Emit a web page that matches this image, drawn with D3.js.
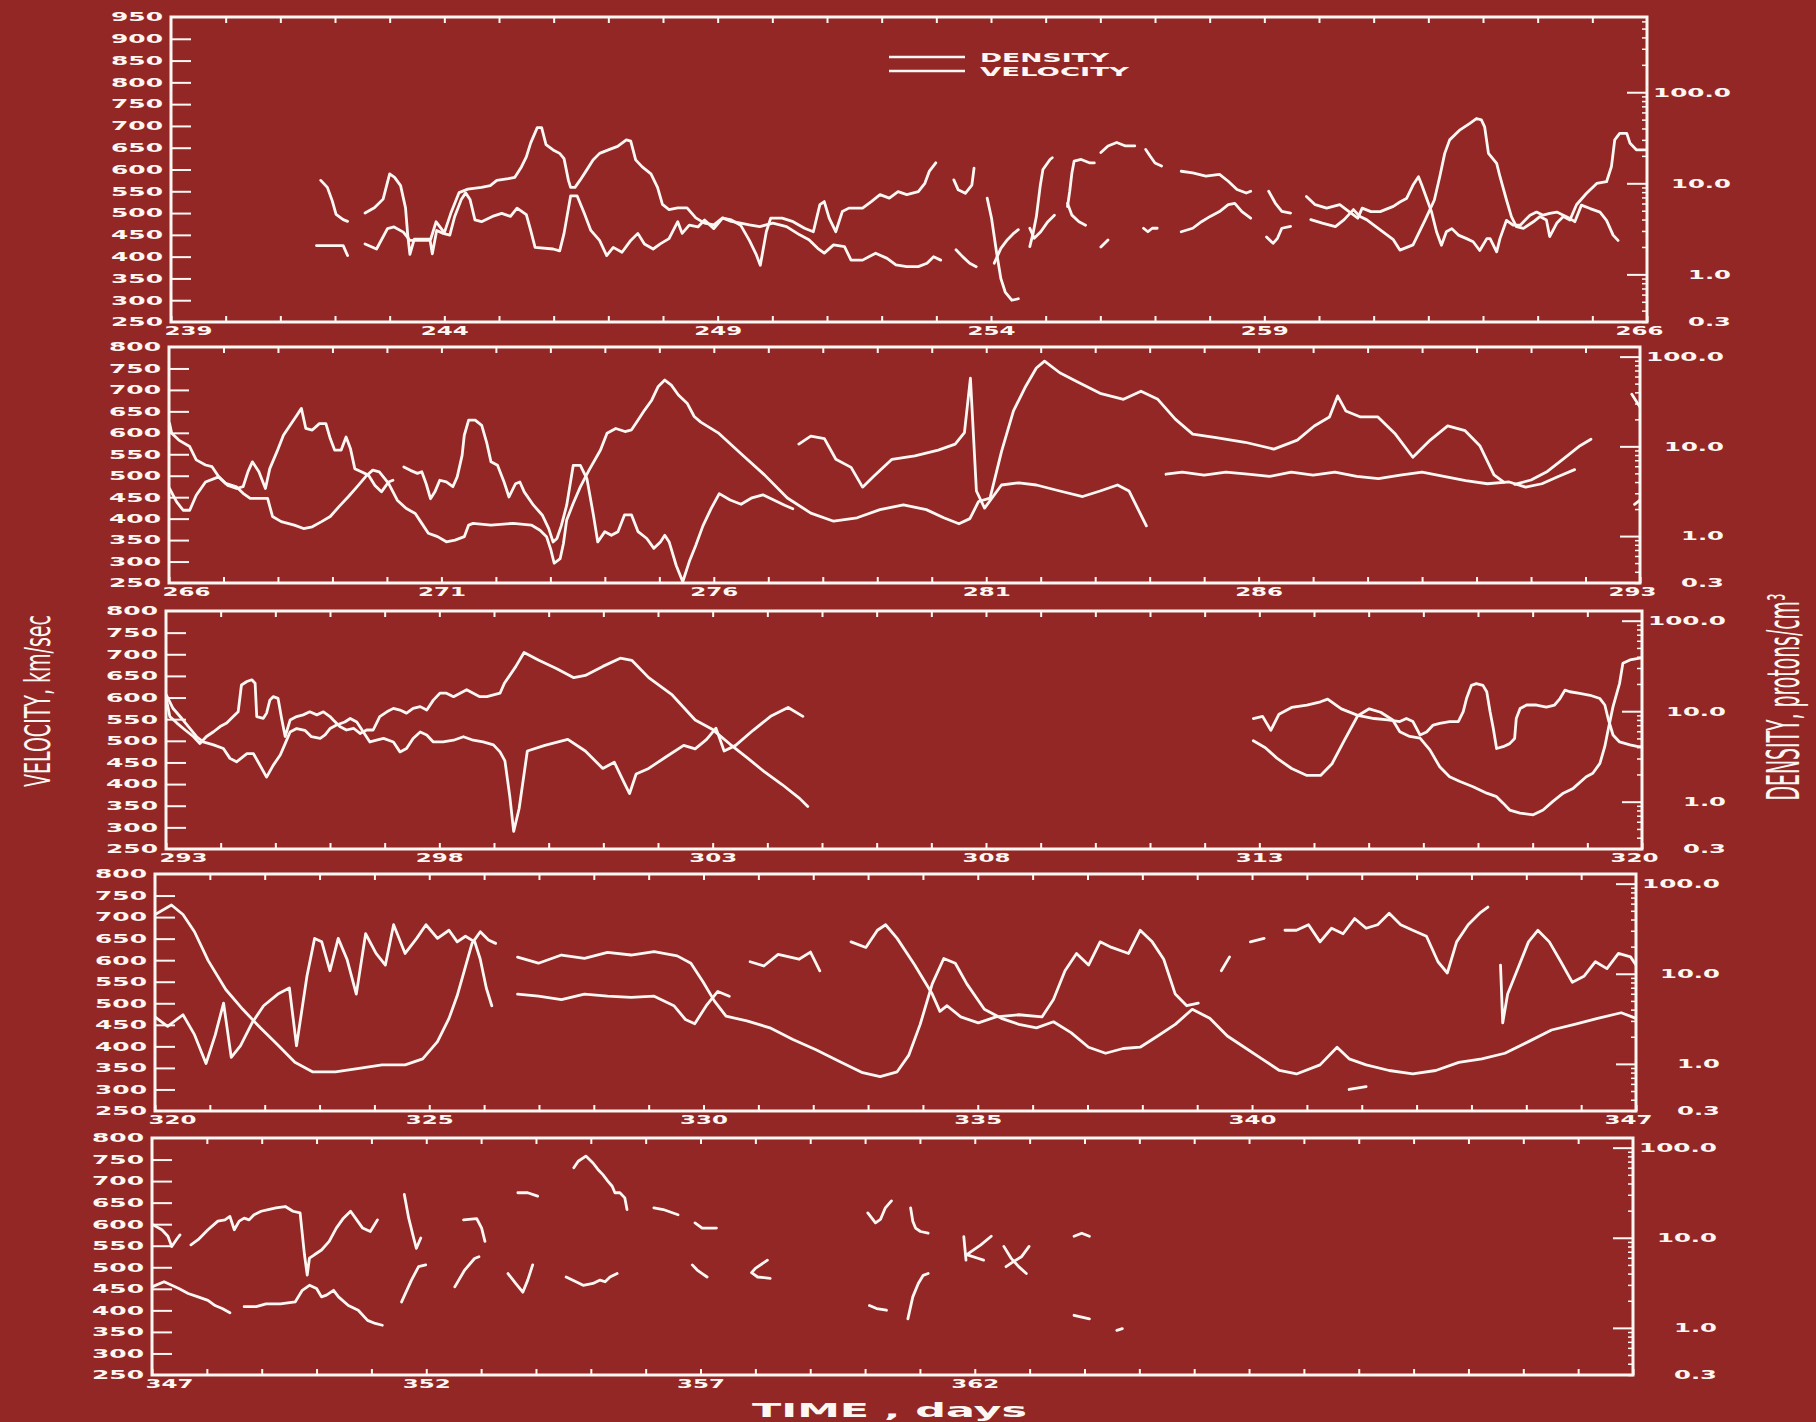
<!DOCTYPE html>
<html>
<head>
<meta charset="utf-8">
<script src="https://cdn.jsdelivr.net/npm/d3@7/dist/d3.min.js"></script>
<style>
  html, body { margin: 0; padding: 0; background: #932725; }
  svg { display: block; }
</style>
</head>
<body>
<svg id="chart" width="1816" height="1422"></svg>
<script>
// ---------------------------------------------------------------------------
// Solar wind proton velocity (km/sec) and density (protons/cm^3) versus time
// in days. Five strips of 27 days each. Each series is a list of [day, value]
// pairs; null marks a data gap.
// ---------------------------------------------------------------------------

const stripDays = [[239, 266], [266, 293], [293, 320], [320, 347], [347, 374]];
const dayLabels1 = [239, 244, 249, 254, 259, 266];
const dayLabels2 = [266, 271, 276, 281, 286, 293];
const dayLabels3 = [293, 298, 303, 308, 313, 320];
const dayLabels4 = [320, 325, 330, 335, 340, 347];
const dayLabels5 = [347, 352, 357, 362];
const velLabelsTall = [250, 300, 350, 400, 450, 500, 550, 600, 650, 700, 750, 800, 850, 900, 950];
const velLabels = [250, 300, 350, 400, 450, 500, 550, 600, 650, 700, 750, 800];
const densLabels = [100, 10, 1, 0.3];

// ---- strip 1: days 239-266 ----
const vel1 = [
  [241.74,575],[241.86,559],[241.95,528],[242.02,497],[242.15,485],[242.23,481],null,
  [242.55,500],[242.72,512],[242.88,532],[243.0,590],[243.09,582],[243.2,563],[243.29,512],[243.33,450],[243.37,405],[243.45,440],[243.75,440],[243.85,480],[244.0,455],[244.12,500],[244.27,547],[244.43,555],[244.68,559],[244.84,563],[244.96,575],[245.17,579],[245.29,582],[245.41,606],[245.5,629],[245.58,661],[245.7,696],[245.78,696],[245.86,657],[245.99,645],[246.11,637],[246.19,625],[246.27,575],[246.31,559],[246.39,559],[246.48,575],[246.6,598],[246.72,622],[246.84,637],[247.0,645],[247.17,653],[247.33,668],[247.41,665],[247.5,622],[247.62,606],[247.78,590],[247.9,559],[247.99,520],[248.11,508],[248.27,512],[248.44,512],[248.6,489],[248.76,477],[248.93,473],[249.09,489],[249.25,481],[249.42,477],[249.58,473],[249.77,469],[250.01,477],[250.26,469],[250.5,450],[250.67,439],[250.83,419],[250.95,408],[251.12,427],[251.32,423],[251.44,392],[251.65,392],[251.89,408],[252.1,396],[252.26,381],[252.46,377],[252.67,377],[252.83,385],[252.95,400],[253.08,392],null,
  [253.36,416],[253.48,400],[253.61,385],[253.73,377],null,
  [254.06,385],[254.18,419],[254.3,439],[254.42,454],[254.5,462],null,
  [254.71,423],[254.77,454],[254.83,492],[254.9,562],[254.95,600],[255.08,623],[255.12,627],null,
  [255.4,515],[255.44,550],[255.48,592],[255.52,619],[255.65,623],[255.81,615],[255.89,615],null,
  [256.01,639],[256.14,654],[256.3,662],[256.46,654],[256.63,654],null,
  [256.83,646],[256.91,631],[257.0,615],[257.12,608],null,
  [257.48,596],[257.69,592],[257.93,585],[258.18,589],[258.34,573],[258.5,554],[258.67,546],[258.75,550],null,
  [259.08,550],[259.2,523],[259.32,504],[259.48,500],null,
  [259.85,485],[260.06,477],[260.3,469],[260.46,485],[260.63,508],[260.75,492],[260.87,485],[261.04,469],[261.2,454],[261.36,439],[261.48,415],[261.72,427],[261.94,484],[262.11,530],[262.21,584],[262.3,637],[262.39,668],[262.58,691],[262.76,706],[262.88,717],[262.97,714],[263.03,698],[263.1,637],[263.25,614],[263.31,584],[263.43,530],[263.52,492],[263.61,469],[263.74,465],[263.92,480],[264.04,492],[264.16,484],[264.22,446],[264.35,477],[264.47,492],[264.59,484],[264.71,519],[264.89,545],[265.08,568],[265.26,572],[265.35,607],[265.41,668],[265.5,683],[265.63,683],[265.69,660],[265.81,645],[266.0,645]
];
const den1 = [
  [241.66,2.07],[242.15,2.07],[242.23,1.61],null,
  [242.55,2.16],[242.76,1.9],[242.96,3.18],[243.08,3.32],[243.25,2.91],[243.37,2.36],[243.53,2.36],[243.74,2.36],[243.78,1.68],[243.86,3.04],[243.98,2.82],[244.1,2.7],[244.19,4.33],[244.31,6.65],[244.39,7.85],[244.47,6.65],[244.56,3.96],[244.68,3.79],[244.88,4.33],[245.05,4.68],[245.21,4.33],[245.33,5.34],[245.5,4.52],[245.58,3.04],[245.66,1.98],[245.99,1.9],[246.11,1.81],[246.19,2.82],[246.31,7.26],[246.43,7.26],[246.56,4.68],[246.68,3.04],[246.84,2.36],[246.97,1.61],[247.09,1.98],[247.25,1.75],[247.41,2.36],[247.54,2.82],[247.66,2.16],[247.82,1.9],[247.95,2.16],[248.11,2.47],[248.27,3.79],[248.35,2.82],[248.48,3.47],[248.64,3.32],[248.76,3.96],[248.93,3.18],[249.09,4.14],[249.25,3.96],[249.42,3.47],[249.58,2.36],[249.7,1.68],[249.78,1.26],[249.89,2.94],[249.97,4.14],[250.18,4.14],[250.38,3.79],[250.59,3.21],[250.75,2.94],[250.87,5.83],[250.95,6.3],[251.04,4.14],[251.16,2.94],[251.28,4.89],[251.4,5.34],[251.65,5.34],[251.81,6.3],[251.97,7.51],[252.14,6.88],[252.3,8.11],[252.46,7.51],[252.67,8.11],[252.79,10.0],[252.87,13.5],[252.99,16.8],null,
  [253.32,10.9],[253.4,8.48],[253.53,7.76],[253.65,9.57],[253.69,14.7],null,
  [253.93,6.88],[254.01,4.14],[254.1,1.77],[254.18,0.9],[254.26,0.64],[254.38,0.52],[254.5,0.54],null,
  [254.71,3.21],[254.79,2.49],[254.91,2.94],[255.04,3.79],[255.16,4.47],null,
  [255.4,6.02],[255.48,4.47],[255.61,3.79],[255.73,3.47],null,
  [256.01,2.0],[256.14,2.39],null,
  [256.79,3.21],[256.87,2.94],[256.95,3.21],[257.04,3.21],null,
  [257.48,2.94],[257.69,3.21],[257.85,3.79],[258.01,4.33],[258.18,4.89],[258.34,5.83],[258.46,6.02],[258.59,4.89],[258.75,4.14],null,
  [259.04,2.58],[259.16,2.19],[259.24,2.49],[259.32,3.21],[259.48,3.36],null,
  [259.77,7.18],[259.93,5.83],[260.14,5.34],[260.38,5.83],[260.55,4.89],[260.71,4.14],[260.79,5.34],[260.95,4.89],[261.12,4.89],[261.36,5.58],[261.48,6.23],[261.6,6.8],[261.72,9.57],[261.82,11.8],[261.88,9.57],[261.97,6.8],[262.06,4.83],[262.15,2.94],[262.24,2.09],[262.33,2.94],[262.43,3.18],[262.55,2.7],[262.7,2.47],[262.82,2.28],[262.94,1.83],[263.07,2.47],[263.13,2.47],[263.25,1.77],[263.31,2.47],[263.43,3.92],[263.55,3.47],[263.68,3.47],[263.86,4.47],[263.98,4.83],[264.1,4.47],[264.22,4.68],[264.35,4.83],[264.47,4.47],[264.59,4.1],[264.68,3.79],[264.8,5.76],[264.96,5.28],[265.14,4.83],[265.26,3.92],[265.38,2.7],[265.47,2.36]
];

// ---- strip 2: days 266-293 ----
const vel2 = [
  [266.01,622],[266.05,599],[266.18,583],[266.38,568],[266.5,537],[266.67,525],[266.79,521],[266.91,498],[267.04,482],[267.24,474],[267.36,459],[267.49,447],[267.81,447],[267.9,405],[268.06,393],[268.3,385],[268.47,377],[268.63,381],[268.8,393],[268.96,405],[269.12,428],[269.29,451],[269.45,474],[269.61,498],[269.74,513],[269.86,509],[270.03,482],[270.19,443],[270.35,424],[270.52,412],[270.64,389],[270.76,366],[270.93,358],[271.09,346],[271.25,350],[271.42,358],[271.5,385],[271.58,389],[271.91,385],[272.32,389],[272.65,385],[272.81,373],[272.93,358],[273.01,327],[273.07,296],[273.18,307],[273.24,342],[273.3,397],[273.42,436],[273.55,474],[273.71,513],[273.92,560],[274.04,599],[274.2,610],[274.37,603],[274.49,607],[274.61,630],[274.73,653],[274.86,676],[274.98,708],[275.1,723],[275.22,711],[275.35,688],[275.51,669],[275.64,638],[275.76,625],[276.08,600],[276.5,551],[276.93,502],[277.35,448],[277.78,413],[278.2,394],[278.63,402],[279.05,421],[279.48,432],[279.9,421],[280.22,402],[280.5,388],[280.7,400],[280.86,440],[281.07,448],[281.28,556],[281.5,651],[281.71,705],[281.92,751],[282.07,767],[282.35,740],[282.67,719],[283.09,692],[283.52,678],[283.84,697],[284.15,678],[284.47,632],[284.79,597],[285.22,589],[285.75,578],[286.28,562],[286.71,583],[287.02,616],[287.3,637],[287.45,686],[287.6,651],[287.87,637],[288.19,637],[288.51,597],[288.83,543],[289.15,583],[289.47,616],[289.79,605],[290.06,570],[290.32,502],[290.5,485],null,
  [290.7,480],[291.0,490],[291.3,510],[291.6,540],[291.9,570],[292.1,585],null,
  [292.85,690],[293.0,660]
];
const den2 = [
  [266.01,3.39],[266.14,2.41],[266.26,1.94],[266.38,1.94],[266.5,2.85],[266.67,4.01],[266.91,4.57],[267.08,3.67],[267.24,3.39],[267.36,3.55],[267.45,5.22],[267.53,6.72],[267.65,5.22],[267.77,3.39],[267.85,5.64],[267.98,8.67],[268.1,13.3],[268.22,17.1],[268.35,22.4],[268.43,26.5],[268.51,15.9],[268.63,15.2],[268.76,17.9],[268.88,17.9],[268.96,12.2],[269.04,9.08],[269.16,9.08],[269.25,12.7],[269.33,9.49],[269.41,5.64],[269.53,5.22],[269.66,4.78],[269.78,3.67],[269.9,3.11],[270.03,4.01],[270.11,4.19],null,
  [270.31,5.89],[270.43,5.4],[270.56,5.0],[270.64,5.22],[270.72,3.83],[270.8,2.61],[270.88,3.11],[270.97,4.19],[271.09,4.01],[271.21,3.55],[271.29,4.57],[271.38,7.94],[271.42,13.3],[271.5,19.6],[271.62,19.6],[271.74,17.1],[271.83,11.1],[271.91,6.72],[272.03,6.15],[272.15,4.01],[272.24,2.73],[272.36,3.83],[272.44,4.01],[272.52,3.11],[272.69,2.21],[272.85,1.72],[272.97,1.21],[273.05,0.86],[273.12,0.94],[273.2,1.3],[273.3,2.21],[273.42,6.15],[273.55,6.15],[273.67,4.38],[273.79,1.72],[273.87,0.86],[274.0,1.12],[274.12,1.02],[274.24,1.12],[274.36,1.72],[274.49,1.72],[274.61,1.12],[274.77,0.94],[274.9,0.73],[275.02,0.86],[275.1,1.02],[275.18,0.86],[275.31,0.47],[275.43,0.31],[275.55,0.52],[275.67,0.79],[275.8,1.3],[275.95,2.02],[276.1,2.97],[276.3,2.52],[276.5,2.26],[276.7,2.67],[276.9,2.88],[277.1,2.52],[277.3,2.21],[277.45,2.02],null,
  [277.56,10.6],[277.78,13.0],[278.03,12.2],[278.24,7.18],[278.52,5.83],[278.73,3.51],[278.95,4.73],[279.27,7.18],[279.69,7.85],[280.12,9.08],[280.43,10.6],[280.6,14.2],[280.71,57.6],[280.82,3.18],[280.97,2.05],[281.28,3.71],[281.6,3.92],[281.92,3.71],[282.35,3.18],[282.77,2.76],[283.09,3.18],[283.41,3.71],[283.62,3.18],[283.94,1.3],null,
  [284.3,4.89],[284.6,5.17],[285.0,4.78],[285.4,5.17],[285.8,4.89],[286.2,4.62],[286.6,5.17],[287.0,4.78],[287.4,5.17],[287.8,4.62],[288.2,4.38],[288.6,4.78],[289.0,5.17],[289.4,4.62],[289.8,4.14],[290.2,3.83],[290.6,4.01],[290.9,3.51],[291.2,3.83],[291.5,4.62],[291.8,5.5],null,
  [292.9,2.26],[293.0,2.52]
];

// ---- strip 3: days 293-320 ----
const vel3 = [
  [293.01,594],[293.07,556],[293.2,541],[293.35,525],[293.5,510],[293.62,494],[293.74,510],[293.87,521],[293.99,533],[294.11,541],[294.23,556],[294.32,567],[294.38,629],[294.48,637],[294.57,641],[294.63,633],[294.66,556],[294.78,552],[294.84,564],[294.9,594],[294.96,602],[295.05,598],[295.12,548],[295.18,510],[295.27,548],[295.39,556],[295.51,560],[295.63,567],[295.76,560],[295.88,567],[296.0,556],[296.06,548],[296.18,533],[296.3,525],[296.43,529],[296.55,517],[296.67,525],[296.79,525],[296.91,556],[297.04,567],[297.16,575],[297.28,571],[297.4,564],[297.52,575],[297.65,579],[297.77,571],[297.89,594],[298.01,610],[298.13,610],[298.26,602],[298.38,610],[298.5,618],[298.62,610],[298.74,602],[298.87,602],[298.99,606],[299.11,610],[299.19,633],[299.4,672],[299.55,704],[299.82,686],[300.14,667],[300.46,646],[300.67,651],[300.99,672],[301.31,691],[301.52,686],[301.83,646],[302.26,606],[302.68,548],[303.0,526],[303.32,492],[303.64,460],[303.95,428],[304.27,399],[304.59,367],[304.74,348],null,
  [312.89,500],[313.11,484],[313.32,460],[313.59,436],[313.87,420],[314.12,420],[314.33,447],[314.55,500],[314.8,558],[315.01,574],[315.22,566],[315.44,548],[315.57,521],[315.75,510],[315.94,506],[316.12,479],[316.3,440],[316.48,417],[316.67,406],[316.91,394],[317.16,379],[317.34,371],[317.46,356],[317.58,340],[317.77,333],[318.01,329],[318.19,340],[318.37,360],[318.56,379],[318.74,390],[318.98,417],[319.1,425],[319.23,448],[319.32,487],[319.38,525],[319.47,579],[319.59,633],[319.65,679],[319.78,687],[319.96,691],[320.0,691]
];
const den3 = [
  [293.01,15.0],[293.13,10.7],[293.29,8.3],[293.44,6.43],[293.56,5.22],[293.68,4.57],[293.87,4.24],[294.05,3.87],[294.17,3.01],[294.29,2.76],[294.48,3.39],[294.6,3.39],[294.72,2.52],[294.84,1.87],[294.96,2.52],[295.09,3.28],[295.18,4.38],[295.27,5.89],[295.39,6.43],[295.54,6.15],[295.66,5.22],[295.82,5.0],[295.91,5.46],[296.0,6.43],[296.12,7.03],[296.27,7.59],[296.37,8.3],[296.49,7.59],[296.61,5.89],[296.73,4.57],[296.85,4.78],[296.98,5.0],[297.16,4.57],[297.28,3.55],[297.4,3.87],[297.52,5.0],[297.65,5.89],[297.77,5.46],[297.89,4.57],[298.07,4.57],[298.26,4.78],[298.44,5.22],[298.62,4.78],[298.8,4.57],[298.99,4.24],[299.11,3.55],[299.2,2.82],[299.29,1.13],[299.36,0.47],[299.46,0.84],[299.61,3.63],[299.93,4.19],[300.35,4.89],[300.67,3.63],[300.99,2.33],[301.2,2.73],[301.38,1.62],[301.48,1.23],[301.6,2.02],[301.83,2.33],[302.15,3.14],[302.47,4.19],[302.68,3.83],[302.89,4.89],[303.06,6.5],[303.21,3.63],[303.42,4.19],[303.74,6.15],[304.06,8.77],[304.38,11.0],[304.65,8.77],null,
  [312.89,8.3],[313.06,8.77],[313.21,6.15],[313.36,9.27],[313.59,11.0],[313.87,11.7],[314.12,12.7],[314.25,13.6],[314.5,10.6],[314.8,8.98],[315.1,8.3],[315.35,8.0],[315.57,7.68],[315.69,8.3],[315.81,7.68],[315.94,5.46],[316.06,5.89],[316.18,7.03],[316.3,7.35],[316.48,7.68],[316.64,7.68],[316.73,9.9],[316.79,13.8],[316.88,19.3],[316.97,20.2],[317.09,19.3],[317.16,16.4],[317.22,9.9],[317.28,6.43],[317.34,3.87],[317.46,4.05],[317.58,4.38],[317.67,5.0],[317.7,8.3],[317.77,10.7],[317.89,11.7],[318.07,11.7],[318.25,11.1],[318.4,11.7],[318.5,13.8],[318.59,17.1],[318.68,16.4],[318.86,15.7],[319.05,15.0],[319.23,13.8],[319.32,11.7],[319.38,8.3],[319.47,5.46],[319.59,4.57],[319.78,4.24],[319.93,4.05],[320.0,4.05]
];

// ---- strip 4: days 320-347 ----
const vel4 = [
  [320.0,706],[320.3,728],[320.51,706],[320.72,666],[320.97,599],[321.29,532],[321.6,486],[321.92,443],[322.24,403],[322.55,363],[322.87,341],[323.29,341],[323.72,349],[324.14,357],[324.56,357],[324.88,371],[325.15,411],[325.36,465],[325.51,518],[325.66,585],[325.78,639],[325.93,666],[326.08,647],[326.21,639],null,
  [326.61,607],[326.99,593],[327.41,612],[327.83,604],[328.25,618],[328.68,612],[329.1,620],[329.52,610],[329.77,593],[329.99,550],[330.2,505],[330.41,470],[330.79,459],[331.21,443],[331.63,416],[332.05,392],[332.48,365],[332.9,339],[333.22,330],[333.53,341],[333.74,379],[333.95,451],[334.17,545],[334.38,604],[334.59,593],[334.8,545],[335.12,486],[335.43,465],[335.75,451],[336.07,443],[336.38,457],[336.7,432],[337.02,398],[337.33,384],[337.65,395],[337.96,398],[338.28,424],[338.6,451],[338.91,486],[339.23,465],[339.55,424],[339.86,398],[340.18,371],[340.5,344],[340.81,336],[341.24,357],[341.55,398],[341.77,371],[342.08,357],[342.5,344],[342.93,336],[343.35,344],[343.77,363],[344.19,371],[344.61,384],[345.04,411],[345.46,438],[345.88,451],[346.3,465],[346.73,478],[347.0,465]
];
const den4 = [
  [320.0,3.32],[320.23,2.61],[320.51,3.51],[320.72,2.11],[320.93,1.01],[321.1,2.11],[321.25,4.73],[321.39,1.18],[321.56,1.59],[321.77,2.85],[321.98,4.42],[322.24,5.95],[322.45,6.95],[322.58,1.59],[322.77,9.38],[322.91,24.7],[323.04,22.6],[323.19,10.8],[323.34,24.7],[323.5,14.5],[323.67,5.95],[323.84,27.8],[324.03,16.8],[324.2,12.5],[324.35,35],[324.56,16.8],[324.77,24.7],[324.94,35],[325.15,24.7],[325.36,30.4],[325.51,22.6],[325.66,26.1],[325.83,22.6],[325.93,14.5],[326.04,6.95],[326.14,4.42],null,
  [326.61,5.95],[326.99,5.64],[327.41,5.17],[327.83,5.95],[328.25,5.64],[328.68,5.46],[329.1,5.64],[329.46,4.42],[329.67,3.11],[329.84,2.79],[330.05,4.42],[330.26,6.36],[330.47,5.64],null,
  [330.85,13.6],[331.1,12.2],[331.36,16.4],[331.74,14.5],[331.95,17.4],[332.12,10.8],null,
  [332.69,22.6],[332.96,19.6],[333.17,30.4],[333.32,35],[333.53,24.7],[333.85,12.5],[334.17,5.95],[334.31,3.83],[334.44,4.42],[334.69,3.32],[335.01,2.85],[335.33,3.32],[335.75,3.51],[336.17,3.32],[336.38,5.17],[336.59,10.8],[336.8,16.8],[337.02,12.5],[337.23,22.6],[337.44,19.6],[337.75,16.8],[337.96,30.4],[338.18,22.6],[338.39,14.5],[338.6,5.95],[338.81,4.42],[339.02,4.73],null,
  [339.44,10.8],[339.59,15.4],null,
  [339.97,22.6],[340.22,24.7],null,
  [340.6,30.4],[340.81,30.4],[341.03,35],[341.24,22.6],[341.45,32],[341.66,27.8],[341.87,41],[342.08,32],[342.29,35],[342.5,47],[342.71,35],[342.93,30.4],[343.18,26.1],[343.39,13.6],[343.56,10.2],[343.73,22.6],[343.94,35],[344.15,47],[344.3,55],null,
  [344.53,12.5],[344.57,2.85],[344.66,5.95],[344.83,10.8],[345.04,22.6],[345.21,30.4],[345.42,22.6],[345.63,13.6],[345.84,8.03],[346.05,9.38],[346.26,13.6],[346.47,11.4],[346.68,16.8],[346.9,15.4],[347.0,12.5],null,
  [341.77,0.52],[342.08,0.56]
];

// ---- strip 5: days 347-374 (sparse coverage) ----
const vel5 = [
  [347.0,600],[347.18,587],[347.29,572],[347.36,548],[347.45,565],[347.51,575],null,
  [347.71,552],[347.84,564],[348.02,587],[348.2,607],[348.33,610],[348.42,618],[348.5,587],[348.59,607],[348.68,614],[348.77,610],[348.86,622],[348.99,630],[349.12,634],[349.26,638],[349.43,641],[349.57,630],[349.7,626],[349.78,529],[349.83,482],[349.87,521],[349.96,529],[350.09,540],[350.23,560],[350.36,591],[350.49,614],[350.62,630],[350.71,614],[350.84,591],[350.98,583],[351.11,610],null,
  [351.6,669],[351.68,614],[351.77,568],[351.82,544],[351.9,568],null,
  [352.68,610],[352.92,613],[353.01,591],[353.07,560],null,
  [353.67,673],[353.85,673],[354.03,665],null,
  [354.69,731],[354.77,746],[354.91,758],[355.04,742],[355.13,727],[355.22,715],[355.31,700],[355.39,688],[355.44,673],[355.53,673],[355.62,661],[355.66,634],null,
  [356.15,638],[356.32,634],[356.5,626],[356.59,622],null,
  [356.9,603],[357.03,591],[357.16,591],[357.29,591],null,
  [360.05,626],[360.19,603],[360.28,611],[360.37,638],[360.48,654],null,
  [360.83,638],[360.87,607],[360.92,591],[361.01,583],[361.15,579],null,
  [361.86,530],[362.11,552],[362.3,572],null,
  [363.81,572],[363.95,579],[364.09,572]
];
const den5 = [
  [347.0,2.85],[347.22,3.25],[347.49,2.73],[347.66,2.41],[347.84,2.21],[348.02,2.02],[348.15,1.77],[348.28,1.64],[348.42,1.47],null,
  [348.68,1.72],[348.9,1.72],[349.08,1.85],[349.34,1.85],[349.61,1.94],[349.74,2.61],[349.87,2.97],[350.0,2.73],[350.09,2.21],[350.18,2.31],[350.31,2.61],[350.4,2.21],[350.58,1.77],[350.76,1.57],[350.93,1.21],[351.07,1.12],[351.2,1.07],null,
  [351.55,1.94],[351.73,3.39],[351.86,4.78],[351.99,5.0],null,
  [352.52,2.85],[352.7,4.38],[352.88,5.89],[352.96,6.15],null,
  [353.49,4.01],[353.63,3.11],[353.76,2.49],[353.85,3.39],[353.94,5.0],null,
  [354.55,3.67],[354.73,3.25],[354.86,2.97],[355.04,3.11],[355.17,3.39],[355.26,3.25],[355.35,3.67],[355.48,4.01],null,
  [356.85,5.0],[356.94,4.38],[357.03,4.01],[357.12,3.67],null,
  [358.22,5.64],[358.0,4.57],[357.93,4.1],[358.04,3.67],[358.27,3.55],null,
  [360.08,1.77],[360.21,1.64],[360.39,1.57],null,
  [360.78,1.26],[360.87,2.21],[360.97,3.11],[361.06,3.83],[361.15,4.01],null,
  [361.8,10.3],[361.84,5.64],null,
  [361.88,6.43],[362.07,5.89],[362.16,5.64],null,
  [362.53,8.03],[362.66,5.95],[362.8,4.78],[362.94,4.01],null,
  [362.57,4.78],[362.71,5.46],[362.85,6.15],[362.99,8.03],null,
  [363.81,1.38],[363.95,1.32],[364.09,1.26],null,
  [364.59,0.94],[364.69,0.98]
];

// ---------------------------------------------------------------------------
// Layout and drawing
// ---------------------------------------------------------------------------
const INK = '#fcf7f3';
const svg = d3.select('#chart');

const strips = [
  { box: [171, 17, 1647, 322],  velTop: 950, densTop: 670, vel: vel1, den: den1, labels: dayLabels1, velTicks: velLabelsTall },
  { box: [169, 347, 1640, 583], velTop: 800, densTop: 128, vel: vel2, den: den2, labels: dayLabels2, velTicks: velLabels },
  { box: [166, 611, 1642, 849], velTop: 800, densTop: 128, vel: vel3, den: den3, labels: dayLabels3, velTicks: velLabels },
  { box: [155, 874, 1636, 1111], velTop: 800, densTop: 128, vel: vel4, den: den4, labels: dayLabels4, velTicks: velLabels },
  { box: [152, 1138, 1633, 1375], velTop: 800, densTop: 128, vel: vel5, den: den5, labels: dayLabels5, velTicks: velLabels }
];

const numFont = "'DejaVu Sans', sans-serif";
const widthOf = s => ({ 3: 52, 4: 60, 5: 78 }[s.length] || s.length * 16);

function styleAxis(g) {
  g.select('.domain').remove();
  g.selectAll('.tick line').attr('stroke', INK).attr('stroke-width', 2);
  g.selectAll('.tick text')
    .attr('fill', INK)
    .attr('font-family', numFont)
    .attr('font-weight', 'bold')
    .attr('font-size', 12);
}

strips.forEach((s, i) => {
  const [x0, y0, x1, y1] = s.box;
  const days = stripDays[i];
  const x = d3.scaleLinear().domain(days).range([x0, x1]);
  const yv = d3.scaleLinear().domain([250, s.velTop]).range([y1, y0]);
  const yd = d3.scaleLog().domain([0.3, s.densTop]).range([y1, y0]);
  const g = svg.append('g').attr('class', 'strip');

  const allDays = d3.range(days[0], days[1] + 1);
  const labelSet = new Set(s.labels);

  // bottom axis: daily ticks, labels every five days
  const bottom = g.append('g')
    .attr('transform', `translate(0,${y1})`)
    .call(d3.axisBottom(x).tickValues(allDays).tickSize(-6).tickPadding(4)
      .tickFormat(d => labelSet.has(d) ? String(d) : ''));
  styleAxis(bottom);
  bottom.selectAll('.tick text')
    .attr('textLength', d => labelSet.has(d) ? 48 : null)
    .attr('lengthAdjust', 'spacingAndGlyphs')
    .attr('text-anchor', d => d === days[0] ? 'start' : (d === days[1] ? 'end' : 'middle'))
    .attr('x', d => d === days[0] ? -7 : (d === days[1] ? 16 : 0));
  bottom.selectAll('.tick text').filter(d => !labelSet.has(d)).remove();

  // top axis: daily ticks only
  const top = g.append('g')
    .attr('transform', `translate(0,${y0})`)
    .call(d3.axisTop(x).tickValues(allDays.slice(1, -1)).tickSize(-6).tickFormat(''));
  styleAxis(top);

  // left axis: velocity
  const left = g.append('g')
    .attr('transform', `translate(${x0},0)`)
    .call(d3.axisLeft(yv).tickValues(s.velTicks).tickSize(-20).tickPadding(8).tickFormat(d3.format('d')));
  styleAxis(left);
  left.selectAll('.tick text')
    .attr('textLength', d => widthOf(String(d)))
    .attr('lengthAdjust', 'spacingAndGlyphs');
  left.selectAll('.tick line').filter(d => d === 250 || d === s.velTop).remove();

  // right axis: density (log)
  const minor = [];
  [0.1, 1, 10, 100].forEach(dec => d3.range(2, 10).forEach(m => {
    const v = dec * m;
    if (v > 0.3 && v < s.densTop) minor.push(v);
  }));
  const rightMinor = g.append('g')
    .attr('transform', `translate(${x1},0)`)
    .call(d3.axisRight(yd).tickValues(minor).tickSize(-5).tickFormat(''));
  styleAxis(rightMinor);
  rightMinor.selectAll('.tick line').attr('stroke-width', 1.5);

  const right = g.append('g')
    .attr('transform', `translate(${x1},0)`)
    .call(d3.axisRight(yd).tickValues(densLabels).tickSize(-20).tickFormat(d3.format('.1f')));
  styleAxis(right);
  right.selectAll('.tick line').filter(d => d === 0.3).remove();
  right.selectAll('.tick text')
    .attr('text-anchor', 'end')
    .attr('x', 84)
    .attr('textLength', d => widthOf(d3.format('.1f')(d)))
    .attr('lengthAdjust', 'spacingAndGlyphs');
  right.selectAll('.tick text').filter(d => d === 1 || d === 0.3).attr('textLength', 43);

  // frame
  g.append('rect')
    .attr('x', x0).attr('y', y0)
    .attr('width', x1 - x0).attr('height', y1 - y0)
    .attr('fill', 'none').attr('stroke', INK).attr('stroke-width', 3);

  // data traces
  const clipId = `clip${i}`;
  g.append('clipPath').attr('id', clipId)
    .append('rect').attr('x', x0).attr('y', y0 - 2).attr('width', x1 - x0).attr('height', y1 - y0 + 4);

  const velLine = d3.line().defined(d => d !== null).x(d => x(d[0])).y(d => yv(d[1]));
  const denLine = d3.line().defined(d => d !== null).x(d => x(d[0])).y(d => yd(d[1]));

  const traces = g.append('g').attr('clip-path', `url(#${clipId})`)
    .attr('fill', 'none').attr('stroke', INK)
    .attr('stroke-width', 2.8).attr('stroke-linejoin', 'round').attr('stroke-linecap', 'round');
  traces.append('path').attr('class', 'density').datum(s.den).attr('d', denLine);
  traces.append('path').attr('class', 'velocity').datum(s.vel).attr('d', velLine);
});

// legend (top strip)
const legend = svg.append('g').attr('class', 'legend');
[['DENSITY', 57, 129], ['VELOCITY', 71, 149]].forEach(([name, y, w]) => {
  legend.append('line')
    .attr('x1', 889).attr('x2', 965).attr('y1', y).attr('y2', y)
    .attr('stroke', INK).attr('stroke-width', 2.4);
  legend.append('text')
    .attr('x', 980).attr('y', y + 5)
    .attr('fill', INK).attr('font-family', numFont).attr('font-weight', 'bold').attr('font-size', 13)
    .attr('textLength', w).attr('lengthAdjust', 'spacingAndGlyphs')
    .text(name);
});

// axis titles
svg.append('text')
  .attr('transform', 'translate(50,701) rotate(-90)')
  .attr('text-anchor', 'middle')
  .attr('fill', INK).attr('font-family', "'DejaVu Sans', sans-serif").attr('font-size', 36)
  .attr('textLength', 172).attr('lengthAdjust', 'spacingAndGlyphs')
  .text('VELOCITY, km/sec');

svg.append('text')
  .attr('transform', 'translate(1799,697) rotate(-90)')
  .attr('text-anchor', 'middle')
  .attr('fill', INK).attr('font-family', "'DejaVu Sans', sans-serif").attr('font-size', 44)
  .attr('textLength', 207).attr('lengthAdjust', 'spacingAndGlyphs')
  .text('DENSITY, protons/cm³');

svg.append('text')
  .attr('x', 752).attr('y', 1417)
  .attr('fill', INK).attr('font-family', numFont).attr('font-weight', 'bold').attr('font-size', 20)
  .attr('textLength', 275).attr('lengthAdjust', 'spacingAndGlyphs')
  .text('TIME , days');
</script>
</body>
</html>
